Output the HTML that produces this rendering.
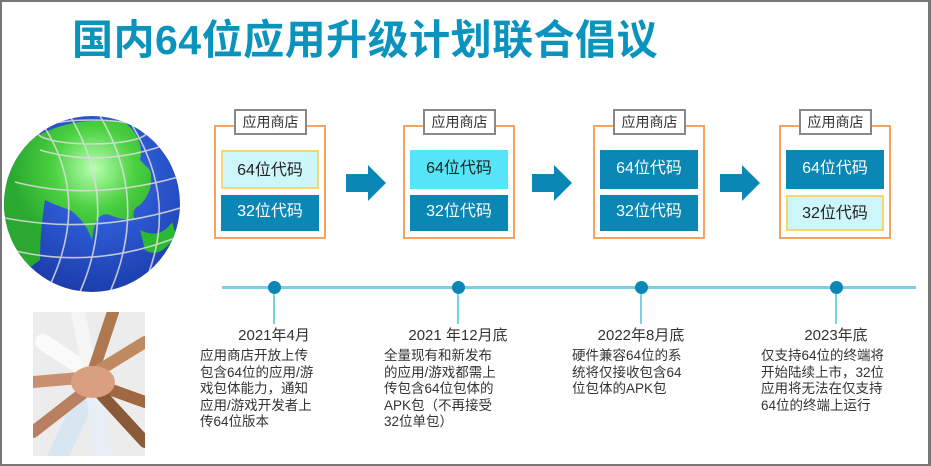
<!DOCTYPE html>
<html><head><meta charset="utf-8"><style>
*{margin:0;padding:0;box-sizing:border-box}
body{width:931px;height:466px;overflow:hidden;background:#fff;font-family:"Liberation Sans","Noto Sans CJK SC",sans-serif;position:relative}
.frame{position:absolute;left:0;top:0;width:931px;height:466px;border:2px solid #777;border-right-width:3px}
.title{position:absolute;left:72px;top:6px;font-size:41px;font-weight:bold;color:#0a93bd;letter-spacing:0.5px;white-space:nowrap}
.store{position:absolute;width:112px;height:114px;border:2px solid #f4a460;top:125px}
.lab{position:absolute;top:-18px;left:18px;width:73px;height:26px;border:2px solid #888;background:#fff;font-size:14px;text-align:center;line-height:22px;color:#333}
.c{position:absolute;left:5px;width:98px;font-size:16px;text-align:center}
.c64{top:23px;height:39px;line-height:37px}
.c32{top:68px;height:36px;line-height:34px}
.dk{background:#0a87b4;color:#fff}
.lt{background:#cdf6fb;border:2px solid #f5d76e;color:#222}
.cy{background:#55e4f8;color:#222}
.arrow{position:absolute;top:165px}
.line{position:absolute;left:222px;top:286px;width:694px;height:3px;background:#7ccfe2}
.dot{position:absolute;top:281px;width:13px;height:13px;border-radius:50%;background:#0a87b4}
.stem{position:absolute;top:290px;width:2px;height:34px;background:#7ccfe2}
.date{position:absolute;top:324px;font-size:15px;color:#333;width:160px;text-align:center}
.txt{position:absolute;top:348px;font-size:13.5px;line-height:16.5px;color:#333}
</style></head><body>
<div class="title">国内64位应用升级计划联合倡议</div>

<svg style="position:absolute;left:0;top:110px" width="190" height="190">
<defs><radialGradient id="g" cx="0.55" cy="0.35" r="0.7"><stop offset="0" stop-color="#3a70f0"/><stop offset="1" stop-color="#1a3aa8"/></radialGradient>
<radialGradient id="l" cx="0.62" cy="0.32" r="0.55"><stop offset="0" stop-color="#b8ffb0"/><stop offset="0.5" stop-color="#4ad040"/><stop offset="1" stop-color="#2aa830"/></radialGradient>
<clipPath id="cp"><circle cx="92" cy="94" r="88"/></clipPath></defs>
<circle cx="92" cy="94" r="88" fill="url(#g)"/>
<g clip-path="url(#cp)">
<path d="M30 30 Q70 5 125 12 Q145 30 140 50 L150 60 Q155 80 140 95 Q130 100 135 110 Q120 110 110 105 Q95 100 92 130 Q85 110 70 100 Q55 95 45 90 Q40 120 40 150 L0 160 L0 50 Z" fill="url(#l)"/>
<path d="M0 90 Q20 110 40 150 L0 180Z" fill="#2aa830"/>
<path d="M140 120 Q160 130 172 112 L176 125 Q160 150 145 140 Z" fill="#2cb832"/>
<g stroke="#ddd" stroke-width="1.6" fill="none" opacity="0.85">
<ellipse cx="92" cy="22" rx="55" ry="12"/>
<path d="M5 108 Q92 125 180 98"/><path d="M12 140 Q92 160 175 128"/><path d="M15 72 Q92 92 182 66"/><path d="M40 40 Q100 58 165 35"/>
<path d="M100 6 Q150 90 110 182"/><path d="M70 6 Q120 90 80 182"/><path d="M130 12 Q180 90 145 172"/><path d="M45 18 Q90 90 50 175"/>
</g></g></svg>

<svg style="position:absolute;left:33px;top:312px" width="112" height="144">
<rect width="112" height="144" fill="#ececec"/>
<g stroke-linecap="round">
<path d="M10 30 L56 60" stroke="#fafafa" stroke-width="16"/>
<path d="M45 0 L56 55" stroke="#f5f5f5" stroke-width="14"/>
<path d="M80 0 L60 60" stroke="#b07850" stroke-width="12"/>
<path d="M112 30 L60 62" stroke="#c08a60" stroke-width="12"/>
<path d="M0 70 L58 65" stroke="#c89070" stroke-width="12"/>
<path d="M112 90 L62 72" stroke="#a06840" stroke-width="12"/>
<path d="M25 144 L55 80" stroke="#d8e6f2" stroke-width="20"/>
<path d="M70 144 L62 82" stroke="#e8eef5" stroke-width="18"/>
<path d="M112 130 L66 80" stroke="#8a5a38" stroke-width="12"/>
<path d="M0 120 L54 78" stroke="#b88060" stroke-width="12"/>
</g>
<ellipse cx="60" cy="70" rx="22" ry="16" fill="#d9a080"/>
</svg>

<div class="store" style="left:214px"><div class="lab">应用商店</div><div class="c c64 lt">64位代码</div><div class="c c32 dk">32位代码</div></div>
<div class="store" style="left:403px"><div class="lab">应用商店</div><div class="c c64 cy">64位代码</div><div class="c c32 dk">32位代码</div></div>
<div class="store" style="left:593px"><div class="lab">应用商店</div><div class="c c64 dk">64位代码</div><div class="c c32 dk">32位代码</div></div>
<div class="store" style="left:779px"><div class="lab">应用商店</div><div class="c c64 dk">64位代码</div><div class="c c32 lt">32位代码</div></div>

<svg class="arrow" style="left:346px" width="40" height="36"><path d="M0 9H22V0L40 18L22 36V27H0Z" fill="#0a87b4"/></svg>
<svg class="arrow" style="left:532px" width="40" height="36"><path d="M0 9H22V0L40 18L22 36V27H0Z" fill="#0a87b4"/></svg>
<svg class="arrow" style="left:720px" width="40" height="36"><path d="M0 9H22V0L40 18L22 36V27H0Z" fill="#0a87b4"/></svg>

<div class="line"></div>
<div class="stem" style="left:273px"></div><div class="stem" style="left:457px"></div><div class="stem" style="left:640px"></div><div class="stem" style="left:835px"></div>
<div class="dot" style="left:268px"></div><div class="dot" style="left:452px"></div><div class="dot" style="left:635px"></div><div class="dot" style="left:830px"></div>

<div class="date" style="left:194px">2021年4月</div>
<div class="date" style="left:378px">2021 年12月底</div>
<div class="date" style="left:561px">2022年8月底</div>
<div class="date" style="left:756px">2023年底</div>

<div class="txt" style="left:200px">应用商店开放上传<br>包含64位的应用/游<br>戏包体能力，通知<br>应用/游戏开发者上<br>传64位版本</div>
<div class="txt" style="left:384px">全量现有和新发布<br>的应用/游戏都需上<br>传包含64位包体的<br>APK包（不再接受<br>32位单包）</div>
<div class="txt" style="left:572px">硬件兼容64位的系<br>统将仅接收包含64<br>位包体的APK包</div>
<div class="txt" style="left:761px">仅支持64位的终端将<br>开始陆续上市，32位<br>应用将无法在仅支持<br>64位的终端上运行</div>

<div class="frame"></div>
</body></html>
